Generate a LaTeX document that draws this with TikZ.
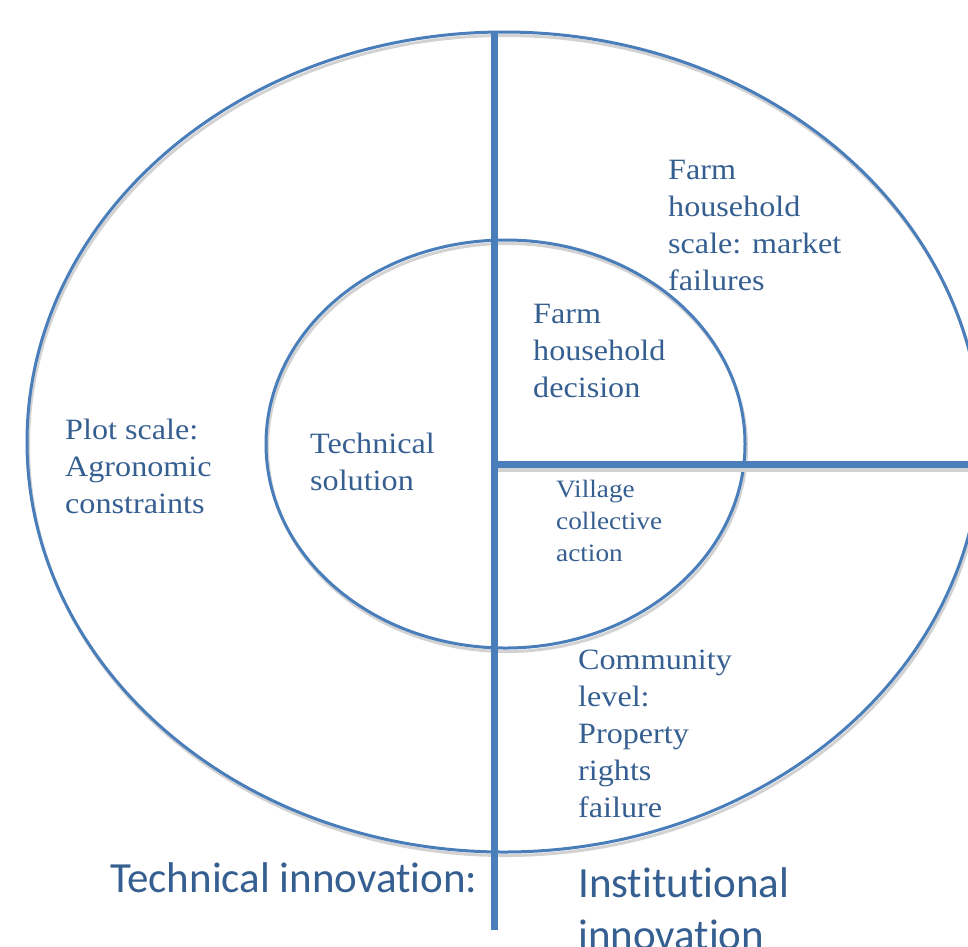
\documentclass[tikz,border=0pt]{standalone}
\usepackage{fontspec}
\setmainfont{Liberation Serif}[FakeStretch=1.09]
\newfontfamily\calib{Carlito}[Ligatures=NoCommon]
\definecolor{lineblue}{HTML}{4A7EBB}
\definecolor{textblue}{HTML}{365F91}
\definecolor{shade}{HTML}{D2D2D2}
\begin{document}
\begin{tikzpicture}[x=1pt,y=-1pt,
  ring/.style={draw=lineblue, line width=3pt},
  ringshadow/.style={draw=shade, line width=3pt},
  bar/.style={draw=lineblue, line width=7pt},
  barshadow/.style={draw=shade, line width=4pt},
  lbl/.style={text=textblue, font=\fontsize{29.5}{37}\selectfont, align=left, anchor=base west, inner sep=0pt},
  smalllbl/.style={lbl, font=\fontsize{25}{32}\selectfont},
  biglbl/.style={lbl, font=\calib\fontsize{43}{52}\selectfont}]
\useasboundingbox (0,0) rectangle (968,946);
\clip (0,0) rectangle (968,946);
% ellipses
\draw[ringshadow] (505.5,445.5) ellipse [x radius=477, y radius=410];
\draw[ring] (504,442) ellipse [x radius=477, y radius=410];
\draw[ringshadow] (507,447.5) ellipse [x radius=239.5, y radius=204];
\draw[ring] (505.5,444) ellipse [x radius=239.5, y radius=204];
% axes
\coordinate (vtop) at (494.5,32);
\coordinate (vbot) at (494.5,930);
\coordinate (hleft) at (494.5,464);
\coordinate (hright) at (968,464);
\coordinate (sleft) at (494.5,469.5);
\coordinate (sright) at (968,469.5);
\draw[barshadow] (sleft) -- (sright);
\draw[bar] (hleft) -- (hright);
\draw[bar] (vtop) -- (vbot);
% labels (anchored at the baseline of their last line)
\node[lbl] (fhs) at (668,290) {Farm\\household\\scale: market\\failures};
\node[lbl] (fhd) at (533,397) {Farm\\household\\decision};
\node[lbl] (plot) at (65,513) {Plot scale:\\Agronomic\\constraints};
\node[lbl] (tech) at (310,490) {Technical\\solution};
\node[smalllbl] (vca) at (556,561) {Village\\collective\\action};
\node[lbl] (comm) at (578,817) {Community\\level:\\Property\\rights\\failure};
\node[biglbl] (ti) at (110,892) {Technical innovation:};
\node[biglbl] (ii) at (578,949) {Institutional\\innovation};
\end{tikzpicture}
\end{document}
